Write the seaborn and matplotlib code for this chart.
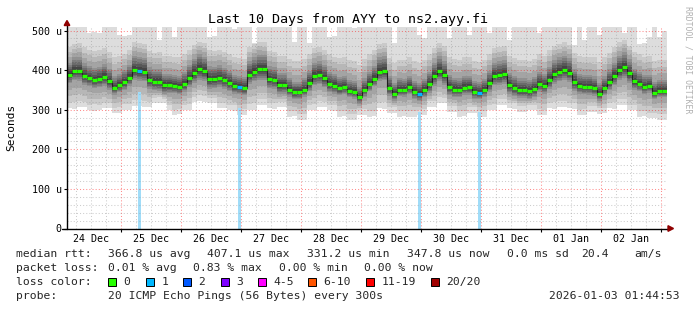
import numpy as np
import pandas as pd
import matplotlib
matplotlib.use("Agg")
import matplotlib.pyplot as plt
import matplotlib.dates as mdates
from matplotlib.lines import Line2D
from matplotlib.patches import Rectangle, Polygon
import seaborn as sns

W, H = 697, 310

# ---------------- data ----------------
title = "Last 10 Days from AYY to ns2.ayy.fi"
start = pd.Timestamp("2025-12-24 02:24")
bin_hours = 2

median_us = [389, 398, 398, 385, 380, 375, 378, 383, 372, 356,
             362, 370, 381, 400, 398, 396, 375, 371, 371, 362,
             362, 360, 357, 365, 380, 393, 403, 398, 377, 377,
             380, 375, 368, 360, 357, 354, 388, 396, 402, 402,
             377, 375, 362, 362, 351, 344, 344, 351, 368, 385,
             388, 380, 365, 361, 354, 357, 348, 345, 331, 350,
             365, 378, 396, 398, 355, 341, 351, 350, 357, 345,
             340, 350, 365, 385, 398, 388, 357, 351, 350, 356,
             357, 345, 343, 350, 367, 385, 387, 390, 362, 355,
             350, 350, 347, 352, 365, 360, 375, 390, 396, 400,
             394, 370, 360, 358, 358, 355, 341, 355, 370, 385,
             400, 407, 392, 372, 365, 358, 360, 343, 348, 348]

# slowest ping per bin (rank 20)
max_us = [515, 512, 515, 515, 495, 497, 493, 515, 515, 510,
          488, 486, 490, 515, 515, 508, 515, 515, 476, 515,
          515, 485, 515, 515, 512, 515, 515, 515, 484, 486,
          515, 515, 515, 505, 515, 515, 515, 468, 515, 515,
          515, 512, 515, 515, 515, 471, 515, 515, 468, 515,
          515, 515, 485, 487, 515, 515, 515, 506, 515, 515,
          515, 515, 515, 515, 515, 468, 515, 515, 515, 515,
          490, 480, 515, 515, 515, 515, 480, 515, 515, 515,
          490, 515, 515, 515, 495, 515, 515, 515, 476, 515,
          515, 515, 515, 515, 495, 515, 515, 515, 515, 515,
          515, 463, 515, 476, 515, 515, 490, 515, 515, 515,
          515, 495, 515, 515, 466, 468, 484, 515, 484, 500]

# rank 19
hi_us = [458, 466, 468, 458, 452, 448, 450, 455, 446, 432,
         436, 442, 452, 470, 468, 466, 448, 444, 445, 436,
         435, 434, 432, 440, 452, 464, 472, 468, 450, 448,
         452, 446, 440, 434, 430, 428, 458, 466, 472, 470,
         448, 446, 436, 435, 428, 422, 424, 428, 442, 456,
         458, 452, 440, 434, 430, 432, 425, 422, 414, 428,
         440, 452, 466, 468, 430, 418, 426, 426, 432, 422,
         418, 426, 440, 456, 468, 460, 432, 428, 426, 432,
         432, 422, 420, 426, 440, 456, 458, 460, 436, 430,
         426, 426, 424, 428, 440, 436, 450, 462, 466, 470,
         464, 444, 436, 434, 434, 432, 420, 432, 444, 458,
         470, 475, 462, 446, 440, 434, 436, 422, 426, 426]

# rank 16 above the median / rank 5 below the median (read distances)
core_above_us = [30, 34, 35, 32, 30, 30, 30, 32, 31, 28,
                 28, 30, 32, 36, 36, 35, 32, 31, 31, 29,
                 29, 29, 28, 30, 33, 36, 38, 36, 33, 32,
                 32, 31, 30, 29, 28, 28, 34, 36, 37, 37,
                 33, 32, 30, 30, 28, 27, 27, 28, 31, 34,
                 35, 33, 31, 30, 29, 29, 28, 27, 26, 29,
                 31, 33, 36, 37, 30, 27, 28, 28, 29, 28,
                 27, 28, 31, 34, 37, 35, 30, 29, 29, 29,
                 29, 28, 27, 28, 31, 34, 35, 35, 31, 30,
                 29, 29, 29, 30, 31, 31, 33, 35, 36, 37,
                 36, 32, 30, 30, 30, 29, 27, 29, 32, 34,
                 37, 38, 35, 32, 30, 29, 29, 27, 27, 27]

core_below_us = [22, 24, 25, 22, 20, 20, 21, 23, 22, 18,
                 18, 20, 21, 25, 26, 24, 22, 22, 24, 22,
                 20, 18, 18, 20, 22, 26, 27, 26, 24, 23,
                 22, 22, 21, 20, 18, 18, 22, 24, 26, 26,
                 23, 22, 22, 21, 18, 18, 17, 18, 21, 23,
                 24, 23, 21, 20, 18, 18, 17, 17, 16, 18,
                 18, 19, 23, 24, 20, 18, 17, 17, 18, 18,
                 18, 19, 22, 24, 26, 25, 20, 19, 18, 18,
                 19, 18, 17, 18, 21, 23, 25, 25, 22, 21,
                 20, 20, 20, 21, 19, 19, 22, 24, 24, 24,
                 23, 22, 19, 19, 20, 20, 18, 19, 21, 23,
                 25, 26, 24, 21, 18, 18, 17, 17, 16, 17]

# rank 2
lo_us = [318, 320, 322, 320, 312, 314, 312, 318, 316, 305,
         306, 314, 315, 324, 325, 322, 320, 330, 331, 328,
         313, 300, 302, 312, 315, 333, 336, 334, 330, 329,
         318, 317, 313, 311, 300, 302, 314, 316, 326, 327,
         318, 316, 320, 319, 297, 296, 289, 290, 313, 315,
         322, 320, 313, 311, 296, 298, 289, 290, 300, 302,
         297, 298, 318, 320, 307, 306, 297, 296, 297, 298,
         300, 301, 321, 323, 331, 330, 309, 310, 297, 298,
         307, 306, 297, 298, 313, 315, 326, 327, 318, 317,
         309, 310, 313, 312, 301, 300, 318, 320, 322, 321,
         318, 317, 300, 301, 309, 310, 304, 305, 318, 320,
         326, 327, 313, 312, 297, 296, 292, 293, 289, 290]

# fastest ping per bin (rank 1)
min_us = [304, 302, 307, 308, 299, 297, 300, 304, 305, 291,
          292, 299, 300, 309, 310, 307, 306, 317, 318, 316,
          299, 286, 288, 299, 300, 320, 321, 319, 317, 316,
          304, 305, 299, 298, 286, 287, 299, 300, 312, 311,
          304, 303, 307, 306, 282, 283, 274, 275, 299, 300,
          307, 306, 299, 298, 282, 283, 274, 275, 286, 287,
          282, 283, 304, 303, 293, 292, 282, 283, 282, 281,
          286, 287, 307, 306, 317, 316, 295, 294, 282, 283,
          293, 292, 282, 281, 299, 300, 312, 311, 304, 303,
          295, 294, 299, 300, 286, 287, 304, 303, 307, 306,
          304, 303, 286, 287, 295, 294, 290, 291, 304, 303,
          312, 311, 299, 300, 282, 283, 278, 279, 274, 275]

loss_bins = [14, 34, 70, 82]
loss_counts = [1, 1, 1, 1]
loss_bar_top = [345, 304, 295, 295]

y_ticks = [0, 100, 200, 300, 400, 500]
y_tick_labels = ["0", "100 u", "200 u", "300 u", "400 u", "500 u"]
day_labels = ["24 Dec", "25 Dec", "26 Dec", "27 Dec", "28 Dec",
              "29 Dec", "30 Dec", "31 Dec", "01 Jan", "02 Jan"]

loss_names = ["0", "1", "2", "3", "4-5", "6-10", "11-19", "20/20"]
loss_colors = ["#26ff00", "#00b8ff", "#0059ff", "#7e00ff",
               "#ff00ff", "#ff5500", "#ff0000", "#a00000"]
loss_upper = [0, 1, 2, 3, 5, 10, 19, 20]

row1 = ["median rtt:", "366.8 us avg", "407.1 us max", "331.2 us min",
        "347.8 us now", "0.0 ms sd", "20.4", "am/s"]
row2 = ["packet loss:", "0.01 % avg", "0.83 % max", "0.00 % min", "0.00 % now"]
row4 = ["probe:", "20 ICMP Echo Pings (56 Bytes) every 300s", "2026-01-03 01:44:53"]

# ---------------- layout (pixels) ----------------
row1_x = [16, 108, 207, 307, 407, 507, 581, 634]
row2_x = [16, 108, 193, 279, 364]
box_x = [108, 146, 183, 221, 258, 308, 366, 431]
row_y = [254, 268, 282, 296]

sns.set_theme(style="white")
plt.rcParams["font.family"] = ["DejaVu Sans Mono", "DejaVu Sans"]

def fx(px):
    return px / W

def fy(py):
    return 1 - py / H

fig = plt.figure(figsize=(W / 100, H / 100), dpi=100, facecolor="white")
ax = fig.add_axes([fx(67), 1 - 228.5 / H, 600 / W, 201.5 / H])
ax.set_facecolor("white")

n = len(median_us)
edges = pd.date_range(start, periods=n + 1, freq=f"{bin_hours}h")
e = mdates.date2num(edges.to_pydatetime())
centers = (e[:-1] + e[1:]) / 2

med = np.array(median_us, float)
anchors = np.array([1, 2, 5, 10.5, 16, 19, 20])
ranks = np.arange(1, 21)
pings = np.array([np.interp(ranks, anchors,
                            [min_us[i], lo_us[i], med[i] - core_below_us[i], med[i],
                             med[i] + core_above_us[i], hi_us[i], max_us[i]])
                  for i in range(n)])

# smoke: 10 nested layers, light outside -> dark inside
for k in range(10):
    g = int(190 / 10 * (10 - (k + 1))) + 50
    col = "#%02x%02x%02x" % (g, g, g)
    ax.stairs(pings[:, 19 - k], e, baseline=pings[:, k], fill=True,
              color=col, linewidth=0, zorder=1)

# loss bars
ax.bar(centers[loss_bins], loss_bar_top, width=1 / 24, color="#a0dcf8",
       linewidth=0, zorder=2)

# grid
end = edges[-1]
for t in pd.date_range(start.ceil("6h"), end, freq="6h"):
    tn = mdates.date2num(t.to_pydatetime())
    if t.hour == 0:
        ax.axvline(tn, color="#ff0000", alpha=0.45, lw=0.75,
                   ls=(0, (1, 2)), zorder=3)
    else:
        ax.axvline(tn, color="#909090", alpha=0.45, lw=0.75,
                   ls=(0, (1, 2)), zorder=3)
for yv in range(20, 501, 20):
    if yv % 100 == 0:
        ax.axhline(yv, color="#ff0000", alpha=0.45, lw=0.75,
                   ls=(0, (1, 2)), zorder=3)
    else:
        ax.axhline(yv, color="#909090", alpha=0.45, lw=0.75,
                   ls=(0, (1, 2)), zorder=3)

# median line
sns.lineplot(x=e, y=np.append(med, med[-1]), drawstyle="steps-post",
             color="#202020", linewidth=0.8, ax=ax, legend=False, zorder=4)
loss = np.zeros(n, int)
loss[loss_bins] = loss_counts
seg_cols = [loss_colors[next(j for j, u in enumerate(loss_upper) if l <= u)]
            for l in loss]
ax.hlines(med, e[:-1], e[1:], colors=seg_cols, linewidth=2.3, zorder=5,
          capstyle="butt")

ax.set_xlim(e[0], e[-1])
ax.set_ylim(0, 509)
for s in ax.spines.values():
    s.set_visible(False)

ax.set_yticks(y_ticks)
ax.set_yticklabels(y_tick_labels)
ax.tick_params(axis="y", length=2.2, width=0.8, pad=1.6, labelsize=7.2,
               direction="out", colors="black", left=True)

noons = pd.date_range(start.normalize() + pd.Timedelta(hours=12), end, freq="D")
mids = pd.date_range(start.normalize() + pd.Timedelta(days=1), end, freq="D")
ax.set_xticks(mdates.date2num(noons.to_pydatetime()))
ax.set_xticklabels(day_labels)
ax.set_xticks(mdates.date2num(mids.to_pydatetime()), minor=True)
ax.tick_params(axis="x", which="major", length=0, pad=4.0, labelsize=7.2,
               colors="black", bottom=True)
ax.tick_params(axis="x", which="minor", length=2.2, width=0.8,
               direction="out", colors="black", bottom=True)
ax.grid(False)
ax.set_xlabel("")
ax.set_ylabel("")

# axes lines and arrows
fig.add_artist(Line2D([fx(67), fx(67)], [fy(228.5), fy(24)], color="black",
                      lw=1.0, transform=fig.transFigure, zorder=6))
fig.add_artist(Line2D([fx(62), fx(669)], [fy(228.5), fy(228.5)], color="black",
                      lw=1.0, transform=fig.transFigure, zorder=6))
fig.add_artist(Polygon([[fx(64.2), fy(25.5)], [fx(69.8), fy(25.5)], [fx(67), fy(20.5)]],
                       closed=True, color="#900000", transform=fig.transFigure, zorder=7))
fig.add_artist(Polygon([[fx(668), fy(225.7)], [fx(668), fy(231.3)], [fx(673.5), fy(228.5)]],
                       closed=True, color="#900000", transform=fig.transFigure, zorder=7))

# texts
fig.text(fx(348), fy(19), title, ha="center", va="center", fontsize=9.6, color="black")
fig.text(fx(11), fy(127), "Seconds", ha="center", va="center", rotation=90,
         fontsize=8.0, color="black")
fig.text(fx(688), fy(60), "RRDTOOL / TOBI OETIKER", ha="center", va="center",
         rotation=270, fontsize=5.9, color="#b0b0b0")

fs = 8.2
for s, x in zip(row1, row1_x):
    fig.text(fx(x), fy(row_y[0]), s, ha="left", va="center", fontsize=fs)
for s, x in zip(row2, row2_x):
    fig.text(fx(x), fy(row_y[1]), s, ha="left", va="center", fontsize=fs)
fig.text(fx(16), fy(row_y[2]), "loss color:", ha="left", va="center", fontsize=fs)
for name, col, x in zip(loss_names, loss_colors, box_x):
    fig.add_artist(Rectangle((fx(x), fy(row_y[2] + 4)), 8 / W, 8 / H,
                             facecolor=col, edgecolor="black", lw=0.7,
                             transform=fig.transFigure))
    fig.text(fx(x + 15.5), fy(row_y[2]), name, ha="left", va="center", fontsize=fs)
fig.text(fx(16), fy(row_y[3]), row4[0], ha="left", va="center", fontsize=fs)
fig.text(fx(108), fy(row_y[3]), row4[1], ha="left", va="center", fontsize=fs)
fig.text(fx(680), fy(row_y[3]), row4[2], ha="right", va="center", fontsize=fs)

fig.savefig("out.png", dpi=100, facecolor="white")
